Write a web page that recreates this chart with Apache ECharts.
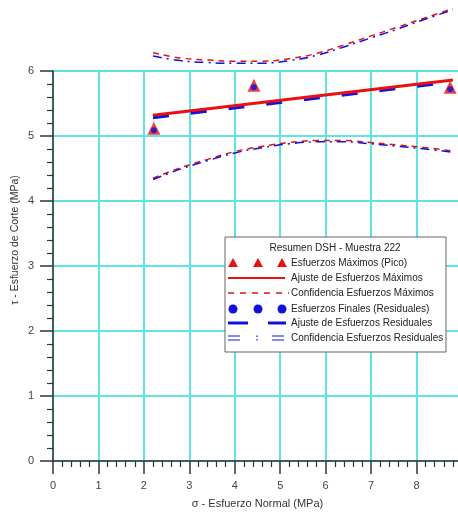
<!DOCTYPE html>
<html>
<head>
<meta charset="utf-8">
<script src="https://cdn.jsdelivr.net/npm/echarts@6/dist/echarts.min.js"></script>
<style>html,body{margin:0;padding:0;background:#fff;}#c{width:458px;height:512px;}</style>
</head>
<body>
<div id="c"></div>
<script>
// ---- data ----
const xTicks = [0, 1, 2, 3, 4, 5, 6, 7, 8, 9];
const yTicks = [0, 1, 2, 3, 4, 5, 6];
const peakSigma = [2.22, 4.42, 8.74];
const peakTau = [5.12, 5.78, 5.75];
const residualSigma = [2.22, 4.42, 8.74];
const residualTau = [5.12, 5.78, 5.75];
const fitSigma = [2.2, 8.8];
const peakFitTau = [5.32, 5.86];
const residualFitTau = [5.29, 5.84];
const curveSigma = [2.2, 2.8, 3.4, 4.0, 4.6, 5.2, 5.8, 6.4, 7.0, 7.6, 8.2, 8.8];
const peakUpper = [6.28, 6.20, 6.17, 6.15, 6.15, 6.19, 6.27, 6.40, 6.54, 6.68, 6.82, 6.96];
const peakLower = [4.35, 4.51, 4.64, 4.76, 4.84, 4.90, 4.93, 4.93, 4.90, 4.86, 4.82, 4.77];
const residualUpper = [6.23, 6.16, 6.13, 6.12, 6.12, 6.16, 6.24, 6.37, 6.51, 6.65, 6.80, 6.94];
const residualLower = [4.33, 4.49, 4.62, 4.74, 4.82, 4.88, 4.91, 4.91, 4.88, 4.84, 4.80, 4.75];
const legendTitle = 'Resumen DSH - Muestra 222';
const legendLabels = [
  'Esfuerzos Máximos (Pico)',
  'Ajuste de Esfuerzos Máximos',
  'Confidencia Esfuerzos Máximos',
  'Esfuerzos Finales (Residuales)',
  'Ajuste de Esfuerzos Residuales',
  'Confidencia Esfuerzos Residuales'
];
const xName = 'σ - Esfuerzo Normal (MPa)';
const yName = 'τ - Esfuerzo de Corte (MPa)';

// ---- helpers ----
const zip = (a, b) => a.map((v, i) => [v, b[i]]);
const RED = '#e81010';
const BLUE = '#1010e0';
const CYAN = '#5fe4e6';
const FONT = 'Liberation Sans, Arial, sans-serif';

const chart = echarts.init(document.getElementById('c'), null, {renderer: 'canvas'});

// legend graphic
const LX = 225, LY = 237, LW = 221, LH = 115;
const rowY = [263, 278, 293, 309, 323, 338];
const g = [];
g.push({type: 'rect', shape: {x: LX, y: LY, width: LW, height: LH}, style: {fill: '#fff', stroke: '#666', lineWidth: 1}, z: 100});
g.push({type: 'text', x: 335, y: 248, style: {text: legendTitle, fill: '#222', font: '10px ' + FONT, align: 'center', verticalAlign: 'middle'}, z: 101});
legendLabels.forEach((t, i) => {
  g.push({type: 'text', x: 291, y: rowY[i], style: {text: t, fill: '#222', font: '10px ' + FONT, align: 'left', verticalAlign: 'middle'}, z: 101});
});
[233, 258, 282].forEach(cx => {
  g.push({type: 'polygon', shape: {points: [[cx, rowY[0] - 5], [cx - 5, rowY[0] + 4], [cx + 5, rowY[0] + 4]]}, style: {fill: RED}, z: 101});
  g.push({type: 'circle', shape: {cx: cx, cy: rowY[3], r: 4.5}, style: {fill: BLUE}, z: 101});
});
g.push({type: 'line', shape: {x1: 228, y1: rowY[1], x2: 285, y2: rowY[1]}, style: {stroke: RED, lineWidth: 2}, z: 101});
g.push({type: 'line', shape: {x1: 228, y1: rowY[2], x2: 289, y2: rowY[2]}, style: {stroke: RED, lineWidth: 1.5, lineDash: [6, 6]}, z: 101});
g.push({type: 'line', shape: {x1: 228, y1: rowY[4], x2: 248, y2: rowY[4]}, style: {stroke: BLUE, lineWidth: 3}, z: 101});
g.push({type: 'line', shape: {x1: 268, y1: rowY[4], x2: 286, y2: rowY[4]}, style: {stroke: BLUE, lineWidth: 3}, z: 101});
[[228, 240], [272, 284]].forEach(([a, b]) => {
  g.push({type: 'line', shape: {x1: a, y1: rowY[5] - 2, x2: b, y2: rowY[5] - 2}, style: {stroke: BLUE, lineWidth: 1}, z: 101});
  g.push({type: 'line', shape: {x1: a, y1: rowY[5] + 2, x2: b, y2: rowY[5] + 2}, style: {stroke: BLUE, lineWidth: 1}, z: 101});
});
g.push({type: 'line', shape: {x1: 257, y1: rowY[5] - 2.5, x2: 257, y2: rowY[5] - 1}, style: {stroke: BLUE, lineWidth: 1.2}, z: 101});
g.push({type: 'line', shape: {x1: 257, y1: rowY[5] + 1, x2: 257, y2: rowY[5] + 2.5}, style: {stroke: BLUE, lineWidth: 1.2}, z: 101});
// y-axis name
g.push({type: 'text', x: 15, y: 240, rotation: Math.PI / 2, style: {text: yName, fill: '#333', font: '10.5px ' + FONT, align: 'center', verticalAlign: 'middle'}, z: 50});

const axisCommon = {
  axisLine: {show: true, onZero: false, lineStyle: {color: '#333', width: 1.5}},
  axisTick: {show: true, length: 13, lineStyle: {color: '#333', width: 1.5}},
  minorTick: {show: true, splitNumber: 5, length: 6, lineStyle: {color: '#333', width: 1.2}},
  splitLine: {show: true, lineStyle: {color: CYAN, width: 2}},
  axisLabel: {color: '#444', fontSize: 11, fontFamily: FONT, margin: 19}
};

chart.setOption({
  animation: false,
  backgroundColor: '#fff',
  grid: {left: 53, top: 71, bottom: 51, width: 409, containLabel: false, outerBoundsMode: 'none'},
  xAxis: Object.assign({}, axisCommon, {
    type: 'value', min: xTicks[0], max: xTicks[xTicks.length - 1], interval: 1,
    name: xName, nameLocation: 'middle', nameGap: 37,
    nameTextStyle: {color: '#333', fontSize: 11, fontFamily: FONT},
    axisLabel: Object.assign({}, axisCommon.axisLabel, {formatter: v => (v === 9 ? '' : String(v))})
  }),
  yAxis: Object.assign({}, axisCommon, {
    type: 'value', min: yTicks[0], max: yTicks[yTicks.length - 1], interval: 1
  }),
  graphic: g,
  series: [
    {type: 'line', data: zip(curveSigma, peakUpper), smooth: 0.4, clip: false, showSymbol: false, lineStyle: {color: RED, width: 1.5, type: [6, 5]}, z: 3},
    {type: 'line', data: zip(curveSigma, peakLower), smooth: 0.4, clip: false, showSymbol: false, lineStyle: {color: RED, width: 1.5, type: [6, 5]}, z: 3},
    {type: 'line', data: zip(curveSigma, residualUpper), smooth: 0.4, clip: false, showSymbol: false, lineStyle: {color: BLUE, width: 1.5, type: [9, 5, 2, 5]}, z: 4},
    {type: 'line', data: zip(curveSigma, residualLower), smooth: 0.4, clip: false, showSymbol: false, lineStyle: {color: BLUE, width: 1.5, type: [9, 5, 2, 5]}, z: 4},
    {type: 'line', data: zip(fitSigma, residualFitTau), clip: false, showSymbol: false, lineStyle: {color: BLUE, width: 4, type: [16, 22]}, z: 5},
    {type: 'line', data: zip(fitSigma, peakFitTau), clip: false, showSymbol: false, lineStyle: {color: RED, width: 3}, z: 6},
    {type: 'scatter', data: zip(peakSigma, peakTau), symbol: 'triangle', symbolSize: 13, itemStyle: {color: RED}, clip: false, z: 7},
    {type: 'scatter', data: zip(residualSigma, residualTau), symbol: 'circle', symbolSize: 6, symbolOffset: [0, 2], itemStyle: {color: BLUE}, clip: false, z: 8}
  ]
});
</script>
</body>
</html>
